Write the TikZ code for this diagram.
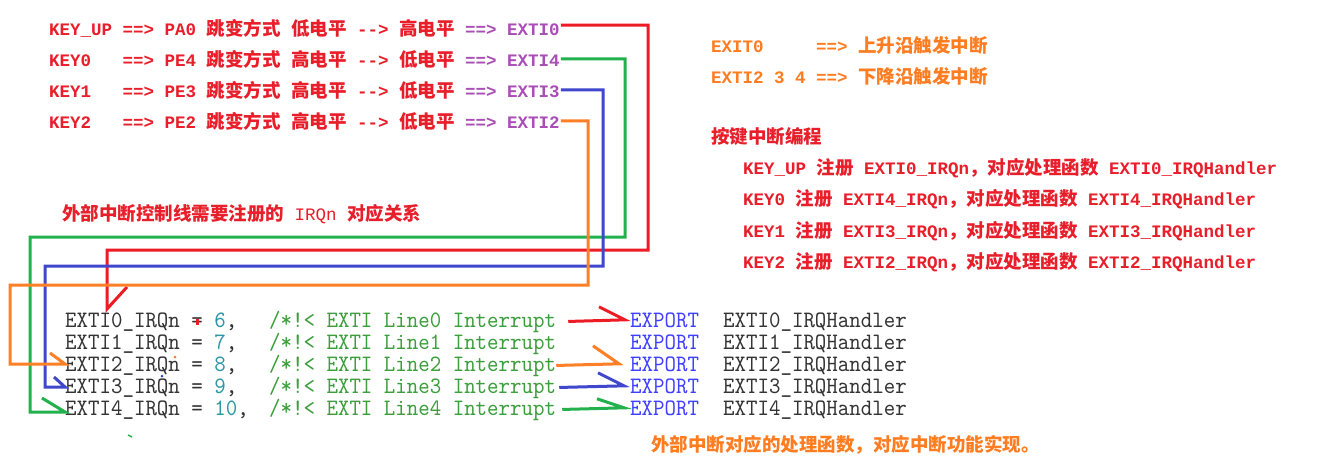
\documentclass[tikz,border=0pt]{standalone}
\usepackage{fontspec}
\usepackage{xcolor}
\newfontfamily\keyfam{Liberation Mono}
\newfontfamily\cjkfam{Noto Sans CJK SC}
\newfontfamily\codefam{lmmono10-regular.otf}[FakeStretch=0.93]

\definecolor{keyred}{RGB}{232,30,42}
\definecolor{extipurple}{RGB}{168,78,180}
\definecolor{noteorange}{RGB}{255,124,32}
\definecolor{pred}{RGB}{237,28,36}
\definecolor{pgreen}{RGB}{34,177,76}
\definecolor{pblue}{RGB}{63,72,204}
\definecolor{porange}{RGB}{255,127,39}
\definecolor{codegray}{RGB}{52,52,52}
\definecolor{codenum}{RGB}{45,150,165}
\definecolor{codecmt}{RGB}{60,158,60}
\definecolor{codeblue}{RGB}{64,64,255}

\newcommand{\zh}[1]{{\fontsize{18.5pt}{21pt}\selectfont\cjkfam\bfseries #1}}
\newcommand{\keyf}{\fontsize{17.5pt}{21pt}\selectfont\keyfam\bfseries}
\newcommand{\codef}{\fontsize{23.5pt}{26pt}\selectfont\codefam}
\newcommand{\arrto}{-\kern0pt-\kern0pt>}

\tikzset{
  keytxt/.style={anchor=base west, inner sep=1pt, text=keyred, font=\keyf},
  notetxt/.style={anchor=base west, inner sep=1pt, text=noteorange, font=\keyf},
  codetxt/.style={anchor=base west, inner sep=0pt, text=codegray, font=\codef},
  cmttxt/.style={codetxt, text=codecmt},
  exptxt/.style={anchor=base west, inner sep=3pt, text=codeblue, font=\codef},
  wire/.style={line width=3pt}
}

\begin{document}
\begin{tikzpicture}[x=1pt,y=1pt,yscale=-1]
\fill[white] (0,0) rectangle (1317,474);
\useasboundingbox (0,0) rectangle (1317,474);

% Text Node
\node[keytxt] (kup) at (48,35) {KEY\_UP ==> PA0 \zh{跳变方式} \zh{低电平} \arrto{} \zh{高电平} \textcolor{extipurple}{==> EXTI0}};
% Text Node
\node[keytxt] (k0) at (48,66) {KEY0\ \ \ ==> PE4 \zh{跳变方式} \zh{高电平} \arrto{} \zh{低电平} \textcolor{extipurple}{==> EXTI4}};
% Text Node
\node[keytxt] (k1) at (48,97) {KEY1\ \ \ ==> PE3 \zh{跳变方式} \zh{高电平} \arrto{} \zh{低电平} \textcolor{extipurple}{==> EXTI3}};
% Text Node
\node[keytxt] (k2) at (48,128) {KEY2\ \ \ ==> PE2 \zh{跳变方式} \zh{高电平} \arrto{} \zh{低电平} \textcolor{extipurple}{==> EXTI2}};

% Text Node
\node[notetxt] (rise) at (710,52) {EXIT0\ \ \ \ \ ==> \zh{上升沿触发中断}};
% Text Node
\node[notetxt] (fall) at (710,83) {EXTI2 3 4 ==> \zh{下降沿触发中断}};

% Text Node
\node[keytxt] (prog) at (710,143) {\zh{按键中断编程}};
% Text Node
\node[keytxt] (reg0) at (742,174) {KEY\_UP \zh{注册} EXTI0\_IRQn\zh{，对应处理函数} EXTI0\_IRQHandler};
% Text Node
\node[keytxt] (reg4) at (742,205) {KEY0 \zh{注册} EXTI4\_IRQn\zh{，对应处理函数} EXTI4\_IRQHandler};
% Text Node
\node[keytxt] (reg3) at (742,237) {KEY1 \zh{注册} EXTI3\_IRQn\zh{，对应处理函数} EXTI3\_IRQHandler};
% Text Node
\node[keytxt] (reg2) at (742,268) {KEY2 \zh{注册} EXTI2\_IRQn\zh{，对应处理函数} EXTI2\_IRQHandler};

% Text Node
\node[keytxt] (title) at (61,220) {\zh{外部中断控制线需要注册的} {\mdseries IRQn} \zh{对应关系}};

% Text Node
\node[codetxt] (id0) at (65,327) {EXTI0\_IRQn = \textcolor{codenum}{6},};
\node[cmttxt] (cm0) at (269,327) {/*!< EXTI Line0 Interrupt};
\node[exptxt] (ex0) at (627,327) {EXPORT};
\node[codetxt] (h0) at (723,327) {EXTI0\_IRQHandler};
% Text Node
\node[codetxt] (id1) at (65,349) {EXTI1\_IRQn = \textcolor{codenum}{7},};
\node[cmttxt] (cm1) at (269,349) {/*!< EXTI Line1 Interrupt};
\node[exptxt] (ex1) at (627,349) {EXPORT};
\node[codetxt] (h1) at (723,349) {EXTI1\_IRQHandler};
% Text Node
\node[codetxt] (id2) at (65,371) {EXTI2\_IRQn = \textcolor{codenum}{8},};
\node[cmttxt] (cm2) at (269,371) {/*!< EXTI Line2 Interrupt};
\node[exptxt] (ex2) at (627,371) {EXPORT};
\node[codetxt] (h2) at (723,371) {EXTI2\_IRQHandler};
% Text Node
\node[codetxt] (id3) at (65,393) {EXTI3\_IRQn = \textcolor{codenum}{9},};
\node[cmttxt] (cm3) at (269,393) {/*!< EXTI Line3 Interrupt};
\node[exptxt] (ex3) at (627,393) {EXPORT};
\node[codetxt] (h3) at (723,393) {EXTI3\_IRQHandler};
% Text Node
\node[codetxt] (id4) at (65,415) {EXTI4\_IRQn = \textcolor{codenum}{10},};
\node[cmttxt] (cm4) at (269,415) {/*!< EXTI Line4 Interrupt};
\node[exptxt] (ex4) at (627,415) {EXPORT};
\node[codetxt] (h4) at (723,415) {EXTI4\_IRQHandler};

% Text Node
\node[notetxt] (impl) at (650,451) {\zh{外部中断对应的处理函数，对应中断功能实现。}};

% bend points
\coordinate (r1) at (648,25);
\coordinate (r2) at (107,250);
\coordinate (r3) at (107,309);
\coordinate (g1) at (30,412);
\coordinate (b1) at (45,387);
\coordinate (o1) at (10,364);

%Straight Lines: KEY_UP
\draw[wire,pred] (kup.east |- r1) -- (r1) |- (r2) -- (r3) -- ++(20,-22);
%Straight Lines: KEY0
\draw[wire,pgreen] (k0.east) -| (625,237) -| (g1) -- (g1 -| id4.west) -- ++(-23,-14);
%Straight Lines: KEY1
\draw[wire,pblue] (k1.east) -| (603,266) -| (b1) -- (b1 -| id3.west) -- ++(-11,-10);
%Straight Lines: KEY2
\draw[wire,porange] (k2.east) -| (588,285) -| (o1) -- (o1 -| id2.west) -- ++(-15,-11);

%Straight Lines: handlers
\draw[wire,pred] ([xshift=12pt]cm0.east) -- ([xshift=-2pt]ex0.west) -- ++(-26,-13);
\draw[wire,porange] (cm2.east) -- ([xshift=-8pt]ex2.west) -- ++(-26,-18);
\draw[wire,pblue] ([xshift=3pt]cm3.east) -- ([xshift=-3pt]ex3.west) -- ++(-26,-13);
\draw[wire,pgreen] ([xshift=6pt]cm4.east) -- ([xshift=-3pt]ex4.west) -- ++(-27,-9);

% stray marks
\fill[pred] (196,319) rectangle (198.5,325);
\fill[porange] (175,357) circle (1.5);
\fill[pblue] (162,376) circle (1.5);
\draw[pgreen,line width=1.5pt] (128,435) -- (132,437);
\end{tikzpicture}
\end{document}
